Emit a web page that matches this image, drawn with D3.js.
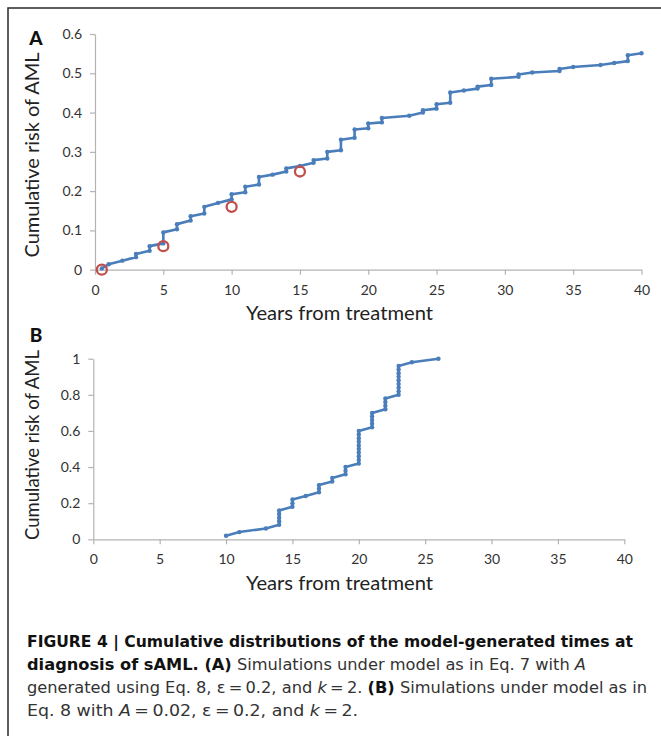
<!DOCTYPE html>
<html><head><meta charset="utf-8">
<script src="https://cdn.jsdelivr.net/npm/d3@7"></script>
<style>
html,body{margin:0;padding:0;background:#fff;}
svg{display:block;}
.axis path,.axis line{stroke:#b3b3b3;stroke-width:1.2;}
.axis text{font-family:Lato,"Open Sans",sans-serif;font-size:14px;fill:#333;}
.title{font-family:Lato,"Open Sans",sans-serif;font-size:19px;fill:#222;}
.cap{font-family:"Liberation Sans Narrow","DejaVu Sans Condensed",sans-serif;font-size:15.5px;fill:#333;}
</style></head>
<body>
<script>
// ---------- Data ----------
// Panel A: simulated cumulative risk (years, risk); repeated year = vertical jump
const yearsA = [0.5,1,2,3,3,4,4,5,5,6,6,7,7,8,8,9,10,10,11,11,12,12,13,14,14,15,16,16,17,17,18,18,19,19,20,20,21,21,23,24,24,25,25,26,26,27,28,28,29,29,31,31,32,34,34,35,37,38,39,39,40];
const riskA  = [0.003,0.014,0.023,0.032,0.040,0.048,0.060,0.067,0.095,0.103,0.116,0.125,0.136,0.143,0.160,0.170,0.179,0.192,0.197,0.211,0.217,0.236,0.242,0.250,0.258,0.264,0.272,0.279,0.283,0.300,0.304,0.331,0.336,0.357,0.360,0.372,0.375,0.386,0.392,0.400,0.406,0.410,0.421,0.425,0.451,0.456,0.461,0.466,0.470,0.486,0.491,0.497,0.502,0.506,0.511,0.516,0.521,0.526,0.531,0.546,0.551];
// Panel A: observed points (red circles)
const obsYearsA = [0.5,5,10,15];
const obsRiskA  = [0,0.06,0.16,0.25];
// Panel B: simulated cumulative risk (50 events)
const yearsB = [10,11,13,14,14,14,14,14,15,15,15,16,17,17,17,18,18,19,19,19,
  20,20,20,20,20,20,20,20,20,20,21,21,21,21,21,22,22,22,22,
  23,23,23,23,23,23,23,23,23,24,26];
const riskB = [0.02,0.04,0.06,0.08,0.10,0.12,0.14,0.16,0.18,0.20,0.22,0.24,0.26,0.28,0.30,0.32,0.34,0.36,0.38,0.40,
  0.42,0.44,0.46,0.48,0.50,0.52,0.54,0.56,0.58,0.60,0.62,0.64,0.66,0.68,0.70,0.72,0.74,0.76,0.78,
  0.80,0.82,0.84,0.86,0.88,0.90,0.92,0.94,0.96,0.98,1.00];
const xTicks = [0,5,10,15,20,25,30,35,40];
const yTicksA = [0,0.1,0.2,0.3,0.4,0.5,0.6];
const yTicksB = [0,0.2,0.4,0.6,0.8,1];
const xTitle = "Years from treatment";
const yTitle = "Cumulative risk of AML";

const W = 661, H = 736;
const blue = "#4a7ebb", red = "#c0504d";
const svg = d3.select("body").append("svg").attr("width", W).attr("height", H);

// frame
svg.append("path").attr("d", "M8,736 L8,8 L661,8").attr("fill","none").attr("stroke","#2a2a2a").attr("stroke-width",1.5);

function panel(cfg){
  const x = d3.scaleLinear().domain([0,40]).range(cfg.xr);
  const y = d3.scaleLinear().domain(cfg.yd).range(cfg.yr);
  const g = svg.append("g");
  g.append("g").attr("class","axis").attr("transform",`translate(0,${cfg.yr[0]})`)
    .call(d3.axisBottom(x).tickValues(xTicks).tickSize(5).tickSizeOuter(0).tickPadding(10).tickFormat(d3.format("d")));
  g.append("g").attr("class","axis").attr("transform",`translate(${cfg.xr[0]},0)`)
    .call(d3.axisLeft(y).tickValues(cfg.yt).tickSize(5).tickSizeOuter(0).tickPadding(8).tickFormat(d=>d3.format("")(+d.toFixed(1))));
  g.selectAll(".axis text").attr("font-family",null);
  const pts = cfg.xs.map((v,i)=>[v,cfg.ys[i]]);
  g.append("path").datum(pts).attr("fill","none").attr("stroke",blue).attr("stroke-width",2.6)
    .attr("stroke-linejoin","round")
    .attr("d", d3.line().x(d=>x(d[0])).y(d=>y(d[1])));
  g.selectAll(null).data(pts).join("circle").attr("cx",d=>x(d[0])).attr("cy",d=>y(d[1])).attr("r",2.2).attr("fill",blue);
  if(cfg.ox){
    g.selectAll(null).data(cfg.ox.map((v,i)=>[v,cfg.oy[i]])).join("circle")
      .attr("cx",d=>x(d[0])).attr("cy",d=>y(d[1])).attr("r",5).attr("fill","none").attr("stroke",red).attr("stroke-width",2.3);
  }
  g.append("text").attr("class","title").attr("x",339.5).attr("y",cfg.xtY).attr("text-anchor","middle")
    .attr("textLength",187).attr("lengthAdjust","spacingAndGlyphs").text(xTitle);
  g.append("text").attr("class","title").attr("transform",`translate(39,${cfg.ytY}) rotate(-90)`).attr("text-anchor","middle")
    .attr("textLength",cfg.ytLen).attr("lengthAdjust","spacingAndGlyphs").text(yTitle);
  g.append("text").attr("x",36).attr("y",cfg.labY).attr("text-anchor","middle")
    .style("font-family","Lato,'Open Sans',Arial,sans-serif").style("font-weight","900").style("font-size","19px").attr("fill","#111").text(cfg.lab);
}

panel({xr:[95,641.5], yd:[0,0.6], yr:[269.7,34], yt:yTicksA, xs:yearsA, ys:riskA, ox:obsYearsA, oy:obsRiskA, xtY:320, ytY:155, ytLen:205, lab:"A", labY:45});
panel({xr:[93.3,624.3], yd:[0,1], yr:[539.3,358.7], yt:yTicksB, xs:yearsB, ys:riskB, xtY:590, ytY:445, ytLen:190, lab:"B", labY:342});

// caption
const capLines = [
  {y:647, len:606, parts:[["FIGURE 4 | Cumulative distributions of the model-generated times at","b"]]},
  {y:670, len:559, parts:[["diagnosis of sAML. ","b"],["(A)","b"],[" Simulations under model as in Eq. 7 with ","n"],["A","i"]]},
  {y:693, len:620, parts:[["generated using Eq. 8, \u03b5\u2009=\u20090.2, and ","n"],["k","i"],["\u2009=\u20092. ","n"],["(B)","b"],[" Simulations under model as in","n"]]},
  {y:716, len:331, parts:[["Eq. 8 with ","n"],["A","i"],["\u2009=\u20090.02, \u03b5\u2009=\u20090.2, and ","n"],["k","i"],["\u2009=\u20092.","n"]]}
];
capLines.forEach(l=>{
  const t = svg.append("text").attr("class","cap").attr("x",27).attr("y",l.y)
    .attr("textLength",l.len).attr("lengthAdjust","spacingAndGlyphs");
  l.parts.forEach(p=>{
    const s = t.append("tspan").text(p[0]);
    if(p[1]==="b") s.style("font-weight","bold").attr("fill","#111");
    if(p[1]==="i") s.style("font-style","italic");
  });
});
</script>
</body></html>
